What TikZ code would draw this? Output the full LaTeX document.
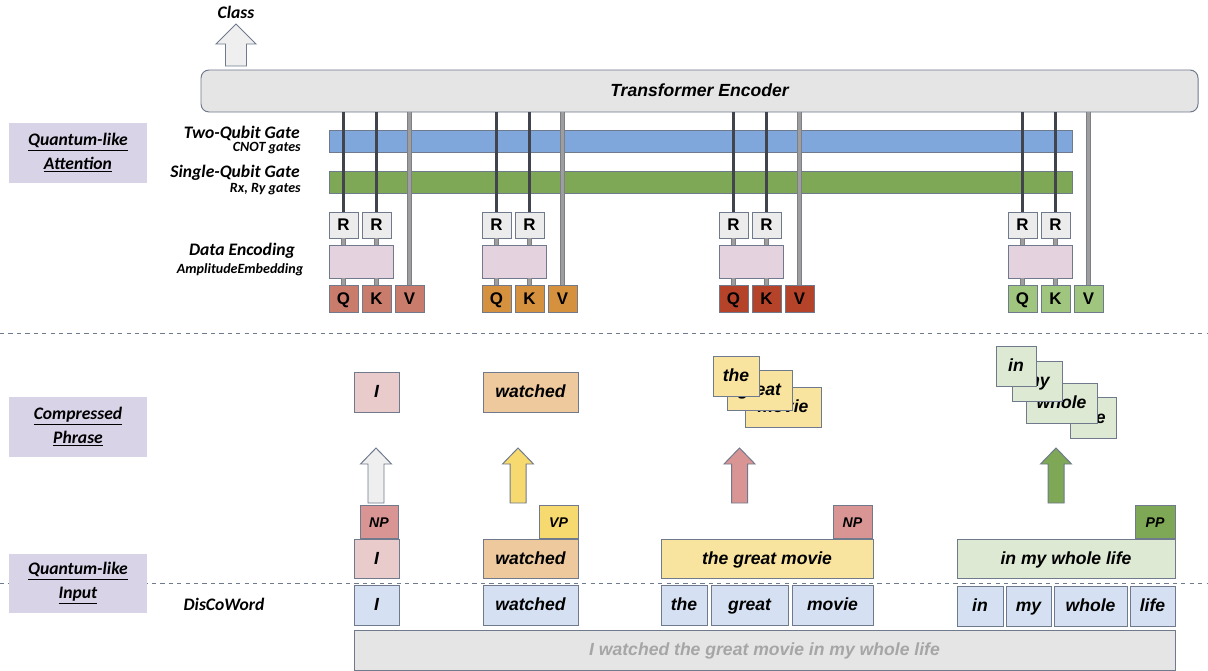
\documentclass[tikz,border=0pt]{standalone}
\usepackage{fontspec}
\setmainfont{Liberation Sans}
\newfontfamily\calibri{Carlito}
\usetikzlibrary{positioning}

\newcommand{\px}{0.025cm}
\definecolor{encfill}{HTML}{E5E5E5}
\definecolor{edgegray}{HTML}{6F7A8C}
\definecolor{lavender}{HTML}{D9D3E8}
\definecolor{cnotblue}{HTML}{7FA7DB}
\definecolor{rotgreen}{HTML}{7EA855}
\definecolor{rgray}{HTML}{ECECEC}
\definecolor{embpink}{HTML}{E4D3DE}
\definecolor{qkvA}{HTML}{C97C6B}
\definecolor{qkvB}{HTML}{D6913E}
\definecolor{qkvC}{HTML}{B5432A}
\definecolor{qkvD}{HTML}{A0C57F}
\definecolor{wordpink}{HTML}{EACBCB}
\definecolor{wordpeach}{HTML}{EEC99E}
\definecolor{wordyellow}{HTML}{F9E49F}
\definecolor{wordgreen}{HTML}{DDE9D3}
\definecolor{wordblue}{HTML}{D5E1F2}
\definecolor{nptag}{HTML}{D99594}
\definecolor{vptag}{HTML}{F6D96F}
\definecolor{pptag}{HTML}{7EA855}
\definecolor{arrgray}{HTML}{EFEFEF}
\definecolor{wiredark}{HTML}{41444C}
\definecolor{wireedge}{HTML}{7C7F86}
\definecolor{wiregray}{HTML}{9E9E9E}
\definecolor{sentgray}{HTML}{A6A6A6}

\begin{document}
\begin{tikzpicture}[
            x=0.025cm, y=-0.025cm,
            box/.style={rectangle, draw=edgegray, line width=0.7pt, inner sep=0pt, minimum height=40*\px, text height=0.8em, text depth=0em, font=\bfseries\itshape\fontsize{12.5}{15}\selectfont},
            gate/.style={box, font=\bfseries\fontsize{12}{14}\selectfont, minimum width=29*\px, minimum height=27*\px},
            tag/.style={box, font=\bfseries\itshape\fontsize{10}{12}\selectfont, minimum width=38*\px, minimum height=33*\px},
            bar/.style={rectangle, draw=edgegray, line width=0.7pt, minimum width=743*\px, minimum height=22*\px},
            label/.style={inner sep=0pt, font=\calibri\bfseries\itshape\fontsize{12.5}{15}\selectfont},
            sublabel/.style={inner sep=0pt, font=\calibri\bfseries\itshape\fontsize{10}{12}\selectfont},
            section/.style={rectangle, fill=lavender, minimum width=138*\px, minimum height=60*\px, align=center, font=\calibri\bfseries\itshape\fontsize{12.5}{17}\selectfont},
            darkwire/.style={line width=2.1pt, draw=wiredark},
            graywire/.style={line width=2.9pt, draw=wireedge, postaction={draw=wiregray, line width=1.7pt}},
            blockarrow/.style={draw=edgegray, line width=0.7pt},
            separator/.style={dashed, draw=edgegray, line width=0.5pt}
        ]
            \useasboundingbox (0,0) rectangle (1208,670);

            % separators
            \draw[separator] (0,333) -- (1208,333);
            \draw[separator] (0,583) -- (1208,583);

            % left section labels
            \node (attn) [section] at (78,153) {\underline{Quantum-like}\\\underline{Attention}};
            \node (comp) [section] at (78,427) {\underline{Compressed}\\\underline{Phrase}};
            \node (qin) [section, minimum height=59*\px] at (78,583.5) {\underline{Quantum-like}\\\underline{Input}};

            % encoder and output
            \node (enc) [box, fill=encfill, rounded corners=0.2cm, minimum width=997*\px, minimum height=42*\px] at (699.5,91) {Transformer Encoder};
            \coordinate (cls) at (236,66);
            \draw[blockarrow, fill=arrgray] (cls) ++(-10.5,0) -- ++(0,-22) -- ++(-9.5,0) -- ++(20,-20) -- ++(20,20) -- ++(-9.5,0) -- ++(0,22) -- cycle;
            \node (class) [label] at (236,12) {Class};

            % gate layers
            \node (cnot) [bar, fill=cnotblue] at (700.5,141) {};
            \node (rot) [bar, fill=rotgreen] at (700.5,182) {};
            \node (cnotlbl) [label, anchor=east] at (300,133) {Two-Qubit Gate};
            \node (cnotsub) [sublabel, anchor=east] at (301,148.5) {CNOT gates};
            \node (rotlbl) [label, anchor=east] at (300,173) {Single-Qubit Gate};
            \node (rotsub) [sublabel, anchor=east] at (301,189.5) {Rx, Ry gates};
            \node (enclbl) [label] at (242,251) {Data Encoding};
            \node (encsub) [sublabel] at (240,269.5) {AmplitudeEmbedding};

            % Q K V per phrase
            \foreach \s/\c/\n in {329/qkvA/1, 482/qkvB/2, 719/qkvC/3, 1008/qkvD/4} {
                \node (q\n) [gate, fill=\c] at (\s+14.5,298.5) {Q};
                \node (k\n) [gate, fill=\c] at (\s+47.5,298.5) {K};
                \node (v\n) [gate, fill=\c] at (\s+80.5,298.5) {V};
                \node (emb\n) [box, fill=embpink, minimum width=64*\px, minimum height=33*\px] at (\s+32,261.5) {};
                \node (rq\n) [gate, fill=rgray, minimum height=26*\px] at (\s+14.5,225) {R};
                \node (rk\n) [gate, fill=rgray, minimum height=26*\px] at (\s+47.5,225) {R};
                \draw[graywire] (q\n.north) -- (q\n.north |- emb\n.south);
                \draw[graywire] (k\n.north) -- (k\n.north |- emb\n.south);
                \draw[graywire] (rq\n.south) -- (rq\n.south |- emb\n.north);
                \draw[graywire] (rk\n.south) -- (rk\n.south |- emb\n.north);
                \draw[darkwire] (rq\n.north) -- (rq\n.north |- enc.south);
                \draw[darkwire] (rk\n.north) -- (rk\n.north |- enc.south);
                \draw[graywire] (v\n.north) -- (v\n.north |- enc.south);
            }

            % compressed phrases
            \node (ci) [box, fill=wordpink, minimum width=45*\px] at (376.5,392) {I};
            \node (cwatched) [box, fill=wordpeach, minimum width=95*\px] at (530.5,392) {watched};
            \node (cmovie) [box, fill=wordyellow, minimum width=76*\px] at (783,407) {movie};
            \node (cgreat) [box, fill=wordyellow, minimum width=65*\px] at (759.5,390) {great};
            \node (cthe) [box, fill=wordyellow, minimum width=46*\px] at (736,376) {the};
            \node (clife) [box, fill=wordgreen, minimum width=46*\px, minimum height=41*\px] at (1093,417.5) {life};
            \node (cwhole) [box, fill=wordgreen, minimum width=71*\px] at (1061.5,403) {whole};
            \node (cmy) [box, fill=wordgreen, minimum width=50*\px] at (1037,381) {my};
            \node (cin) [box, fill=wordgreen, minimum width=40*\px] at (1016,366) {in};

            % compression arrows
            \foreach \x/\c/\n in {376/arrgray/1, 518/vptag/2, 739.5/nptag/3, 1056/pptag/4} {
                \coordinate (up\n) at (\x,503);
                \draw[blockarrow, fill=\c] (up\n) ++(-8,0) -- ++(0,-39) -- ++(-7.5,0) -- ++(15.5,-16) -- ++(15.5,16) -- ++(-7.5,0) -- ++(0,39) -- cycle;
            }

            % phrase tags
            \node (np1) [tag, fill=nptag] at (379,521.5) {NP};
            \node (vp) [tag, fill=vptag, minimum width=39*\px] at (558.5,521.5) {VP};
            \node (np2) [tag, fill=nptag, minimum width=39*\px] at (852.5,521.5) {NP};
            \node (pp) [tag, fill=pptag, minimum width=40*\px] at (1155,521.5) {PP};

            % quantum-like input phrases
            \node (pi) [box, fill=wordpink, minimum width=45*\px, minimum height=39*\px] at (376.5,558.5) {I};
            \node (pwatched) [box, fill=wordpeach, minimum width=95*\px, minimum height=39*\px] at (530.5,558.5) {watched};
            \node (pmovie) [box, fill=wordyellow, minimum width=212*\px, minimum height=39*\px] at (767,558.5) {the great movie};
            \node (plife) [box, fill=wordgreen, minimum width=218*\px, minimum height=39*\px] at (1066,559) {in my whole life};

            % DisCoWord tokens
            \node (dcw) [label] at (224,604) {DisCoWord};
            \node (wi) [box, fill=wordblue, minimum width=45*\px] at (376.5,605) {I};
            \node (wwatched) [box, fill=wordblue, minimum width=95*\px] at (530.5,605) {watched};
            \node (wthe) [box, fill=wordblue, minimum width=46*\px] at (684,605) {the};
            \node (wgreat) [box, fill=wordblue, minimum width=77*\px] at (749.5,605) {great};
            \node (wmovie) [box, fill=wordblue, minimum width=81*\px] at (832.5,605) {movie};
            \node (win) [box, fill=wordblue, minimum width=46*\px] at (980,606) {in};
            \node (wmy) [box, fill=wordblue, minimum width=45*\px] at (1028.5,606) {my};
            \node (wwhole) [box, fill=wordblue, minimum width=73*\px] at (1090.5,606) {whole};
            \node (wlife) [box, fill=wordblue, minimum width=45*\px] at (1152.5,606) {life};

            % sentence
            \node (sent) [box, fill=encfill, minimum width=821*\px, text=sentgray] at (764.5,650) {I watched the great movie in my whole life};
        \end{tikzpicture}
\end{document}
